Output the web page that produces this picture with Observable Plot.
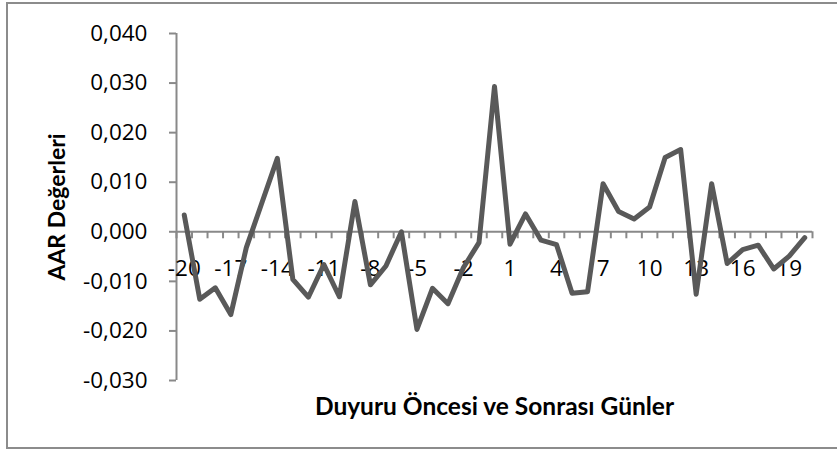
<!DOCTYPE html>
<html><head><meta charset="utf-8">
<script src="https://cdn.jsdelivr.net/npm/d3@7"></script>
<script src="https://cdn.jsdelivr.net/npm/@observablehq/plot@0.6"></script>
<style>
body{margin:0;background:#fff;}
#wrap{position:relative;width:837px;height:450px;}
#wrap svg{position:absolute;left:0;top:0;}
#border{position:absolute;left:6px;top:2px;width:831px;height:447px;border:2px solid #8c8c8c;border-right:none;box-sizing:border-box;}
</style></head><body><div id="wrap"><div id="border"></div></div>
<script>
const days = [-20,-19,-18,-17,-16,-15,-14,-13,-12,-11,-10,-9,-8,-7,-6,-5,-4,-3,-2,-1,0,1,2,3,4,5,6,7,8,9,10,11,12,13,14,15,16,17,18,19,20];
const aar = [0.0034,-0.0136,-0.0113,-0.0167,-0.0032,0.0058,0.0148,-0.0096,-0.0132,-0.0066,-0.0131,0.0061,-0.0107,-0.0069,0.0000,-0.0197,-0.0114,-0.0145,-0.0072,-0.0022,0.0293,-0.0025,0.0036,-0.0017,-0.0026,-0.0124,-0.0121,0.0097,0.0041,0.0026,0.0050,0.0150,0.0166,-0.0126,0.0097,-0.0064,-0.0036,-0.0027,-0.0075,-0.0049,-0.0012];
const yTicks = [-0.03,-0.02,-0.01,0,0.01,0.02,0.03,0.04];
const xTickLabels = [-20,-17,-14,-11,-8,-5,-2,1,4,7,10,13,16,19];
const xTitle = "Duyuru Öncesi ve Sonrası Günler";
const yTitle = "AAR Değerleri";

const data = days.map((d, i) => ({day: d, aar: aar[i]}));
const bounds = days.map(d => d - 0.5).concat([days[days.length - 1] + 0.5]);
const fmt = d => (d < -1e-12 ? "-" : "") + Math.abs(d).toFixed(3).replace(".", ",");
const axisColor = "#898989";
const tickFont = "Open Sans";

const chart = Plot.plot({
  width: 837, height: 450,
  marginLeft: 176, marginRight: 25, marginTop: 33, marginBottom: 70,
  style: {fontFamily: "Lato", background: "transparent", color: "#000", overflow: "visible"},
  x: {type: "linear", domain: [bounds[0], bounds[bounds.length - 1]], axis: null},
  y: {domain: [-0.03, 0.04], axis: null},
  marks: [
    Plot.ruleX([bounds[0]], {stroke: axisColor, strokeWidth: 2}),
    Plot.axisY(yTicks, {tickFormat: fmt, tickSize: 7, tickPadding: 22, fontSize: 22.5, fontFamily: tickFont, stroke: axisColor, strokeWidth: 2, fill: "#000", label: null}),
    Plot.ruleY([0], {stroke: axisColor, strokeWidth: 2}),
    Plot.ruleX(bounds, {y1: 0, y2: 0, insetBottom: -7, stroke: axisColor, strokeWidth: 2}),
    Plot.text(xTickLabels, {x: d => d, y: 0, text: d => String(d), dy: 37, fontSize: 22.5, fontFamily: tickFont, fill: "#000", lineAnchor: "middle"}),
    Plot.line(data, {x: "day", y: "aar", stroke: "#595959", strokeWidth: 5, strokeLinejoin: "round", strokeLinecap: "round"}),
    Plot.text([xTitle], {frameAnchor: "bottom", dy: 27, fontSize: 24.5, fontWeight: "bold", fill: "#000", lineAnchor: "middle", textAnchor: "middle"}),
    Plot.text([yTitle], {frameAnchor: "left", dx: -119, rotate: -90, fontSize: 23, fontWeight: "bold", fill: "#000", lineAnchor: "middle", textAnchor: "middle"})
  ]
});
document.getElementById("wrap").prepend(chart);
</script>
</body></html>
